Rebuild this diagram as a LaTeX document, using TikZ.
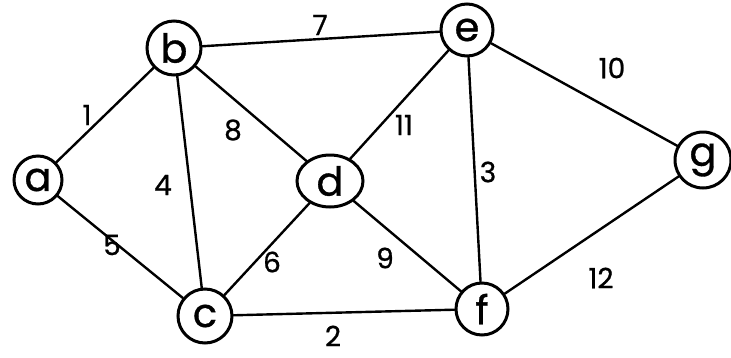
\documentclass[tikz,border=0pt]{standalone}
\usepackage{fontspec}
\setmainfont{Poppins}
\newfontfamily\traco{Poppins}[FakeBold=0.8]
\usetikzlibrary{shapes.geometric}

\begin{document}
\begin{tikzpicture}[x=1pt, y=-1pt,
        vertice/.style={circle, draw=black, line width=3pt, fill=white, minimum size=54pt, inner sep=0pt, font=\traco\fontsize{40}{40}\selectfont},
        aresta/.style={line width=2.4pt, line cap=round},
        peso/.style={font=\traco\fontsize{28}{28}\selectfont, inner sep=1pt}
    ]
        \useasboundingbox (0,0) rectangle (731,357);

        % Vértices
        \node[vertice, minimum size=48pt] (a) at (38,180) {a};
        \node[vertice] (b) at (174,48) {b};
        \node[vertice, minimum size=52pt] (e) at (467,30) {e};
        \node[vertice, ellipse, minimum width=66pt, minimum height=52pt] (d) at (330,181) {d};
        \node[vertice, minimum size=56pt] (g) at (703,160) {g};
        \node[vertice] (c) at (205,316) {c};
        \node[vertice, minimum size=52pt] (f) at (482,309) {f};

        % Arestas com pesos
        \draw[aresta] (a) -- (b) node[peso] at (87,115) {1};
        \draw[aresta] (b) -- (e) node[peso] at (320,25) {7};
        \draw[aresta] (e) -- (g) node[peso] at (612,68) {10};
        \draw[aresta] (b) -- (d) node[peso] at (233,130) {8};
        \draw[aresta] (e) -- (d) node[peso] at (404,125) {11};
        \draw[aresta] (b) -- (c) node[peso] at (163,185) {4};
        \draw[aresta] (e) -- (f) node[peso] at (488,172) {3};
        \draw[aresta] (a) -- (c) node[peso] at (112,245) {5};
        \draw[aresta] (d) -- (c) node[peso] at (272,262) {6};
        \draw[aresta] (d) -- (f) node[peso] at (385,258) {9};
        \draw[aresta] (g) -- (f) node[peso] at (601,278) {12};
        \draw[aresta] (c) -- (f) node[peso] at (333,336) {2};
    \end{tikzpicture}
\end{document}
